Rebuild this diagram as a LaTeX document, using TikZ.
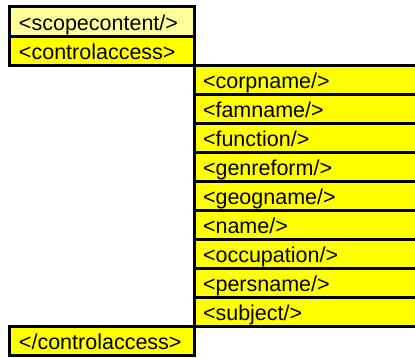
\documentclass[tikz,border=0pt]{standalone}
\usepackage{fontspec}
\setmainfont{Liberation Sans}
\definecolor{lightyel}{HTML}{FFFF99}
\definecolor{yel}{HTML}{FFFF00}
\begin{document}
\begin{tikzpicture}[x=1pt,y=-1pt,
  cell/.style={draw=black, line width=3pt, fill=yel, anchor=north west,
    outer sep=0pt, inner ysep=0pt, minimum height=29.08pt,
    text height=17pt, text depth=0pt, align=left,
    font=\fontsize{21.5}{25}\selectfont},
  leftcell/.style={cell, minimum width=184.5pt, inner xsep=9.5pt, text width=165.5pt},
  rightcell/.style={cell, minimum width=246pt, inner xsep=9pt, text width=228pt}]
\useasboundingbox (0,0) rectangle (415,358);
\clip (0,0) rectangle (415,358);
\node[leftcell, fill=lightyel] (sc) at (9.5,7) {<scopecontent/>};
\node[leftcell] (ca) at (9.5,36.08) {<controlaccess>};
\node[rightcell] (corp) at (194,65.16) {<corpname/>};
\node[rightcell] (fam) at (194,94.24) {<famname/>};
\node[rightcell] (func) at (194,123.32) {<function/>};
\node[rightcell] (genre) at (194,152.40) {<genreform/>};
\node[rightcell] (geog) at (194,181.48) {<geogname/>};
\node[rightcell] (name) at (194,210.56) {<name/>};
\node[rightcell] (occ) at (194,239.64) {<occupation/>};
\node[rightcell] (pers) at (194,268.72) {<persname/>};
\node[rightcell] (subj) at (194,297.80) {<subject/>};
\node[leftcell] (cae) at (9.5,326.88) {</controlaccess>};
\end{tikzpicture}
\end{document}
